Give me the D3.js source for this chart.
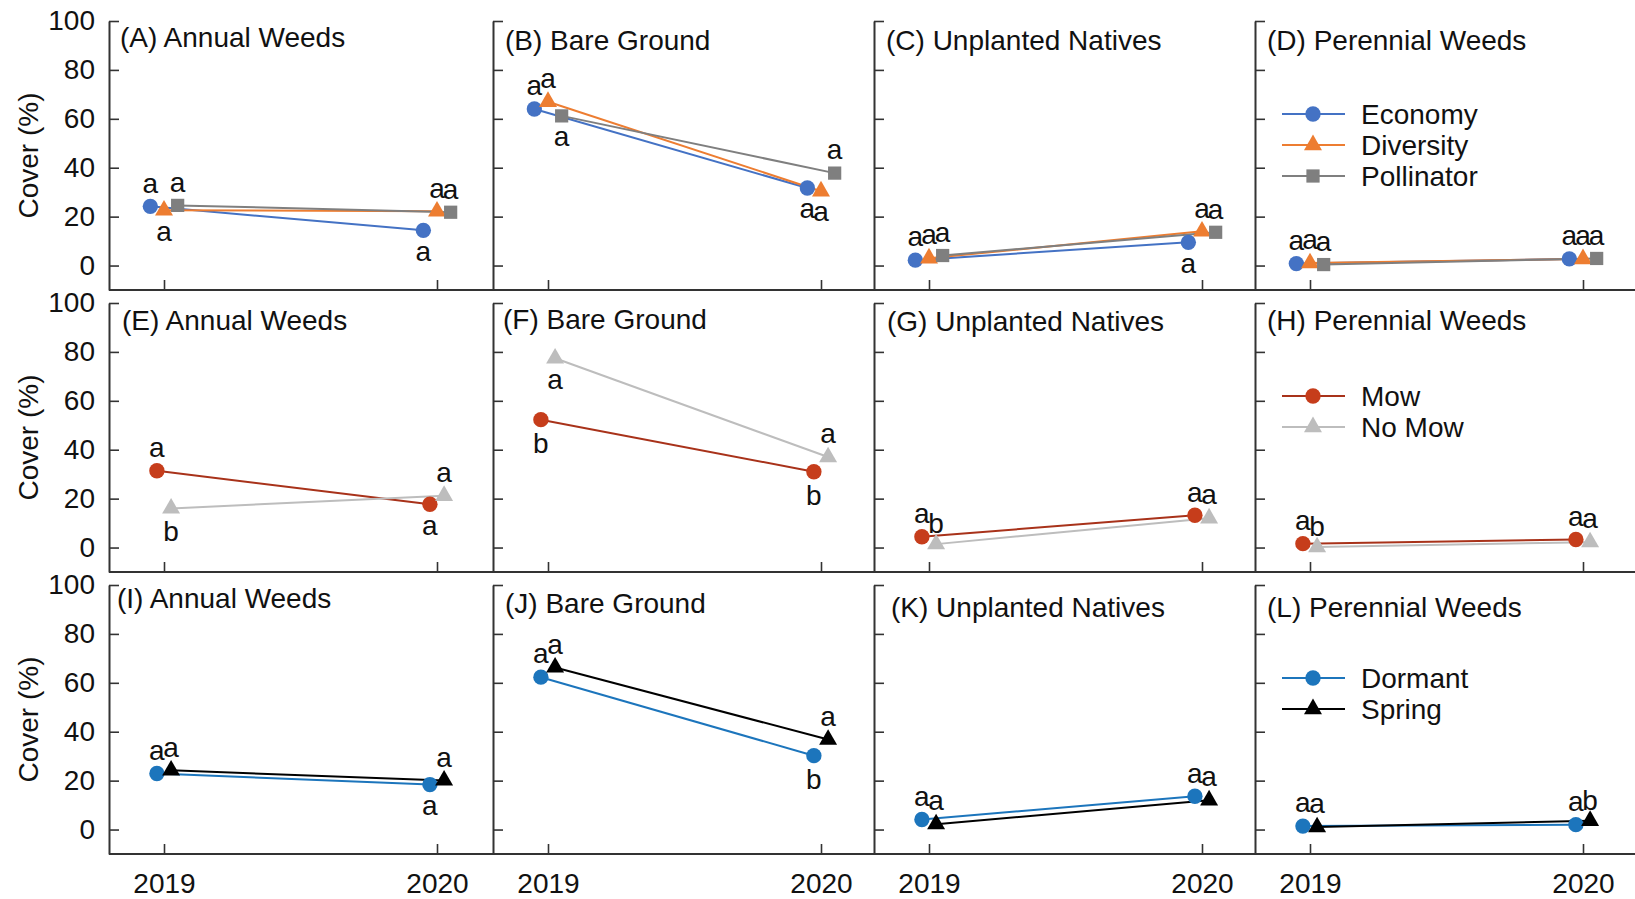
<!DOCTYPE html>
<html>
<head>
<meta charset="utf-8">
<script src="https://cdn.jsdelivr.net/npm/d3@7"></script>
<style>
  body { margin: 0; background: #fff; }
  svg { display: block; font-family: "Liberation Sans", Arial, sans-serif; }
</style>
</head>
<body>
<svg id="chart" width="1635" height="899"></svg>
<script>
// ---- data -------------------------------------------------------------
const years = [2019, 2020];
const yTicks = [0, 20, 40, 60, 80, 100];
const categories = ["Annual Weeds", "Bare Ground", "Unplanted Natives", "Perennial Weeds"];
const panelLetters = [["A", "B", "C", "D"], ["E", "F", "G", "H"], ["I", "J", "K", "L"]];
const yLabel = "Cover (%)";

// Seed mix (row 1): mean cover per category, [2019, 2020]
const economyCover    = [[24.2, 14.4], [64.0, 31.7], [2.2, 9.5],  [0.8, 2.7]];
const diversityCover  = [[22.6, 22.2], [67.0, 30.4], [3.0, 14.0], [1.0, 2.7]];
const pollinatorCover = [[24.6, 21.8], [61.2, 37.8], [4.1, 13.6], [0.4, 2.9]];
const economyLetters    = [["a", "a"], ["a", "a"], ["a", "a"], ["a", "a"]];
const diversityLetters  = [["a", "a"], ["a", "a"], ["a", "a"], ["a", "a"]];
const pollinatorLetters = [["a", "a"], ["a", "a"], ["a", "a"], ["a", "a"]];

// Mowing (row 2)
const mowCover   = [[31.4, 17.7], [52.3, 31.0], [4.4, 13.2], [1.6, 3.3]];
const noMowCover = [[16.0, 21.2], [77.4, 37.0], [1.4, 12.0], [0.2, 2.2]];
const mowLetters   = [["a", "a"], ["b", "b"], ["a", "a"], ["a", "a"]];
const noMowLetters = [["b", "a"], ["a", "a"], ["b", "a"], ["b", "a"]];

// Planting season (row 3)
const dormantCover = [[22.9, 18.4], [62.3, 30.2], [4.1, 13.6], [1.4, 2.0]];
const springCover  = [[24.2, 20.1], [66.3, 36.8], [2.2, 12.0], [1.0, 3.6]];
const dormantLetters = [["a", "a"], ["a", "b"], ["a", "a"], ["a", "a"]];
const springLetters  = [["a", "a"], ["a", "a"], ["a", "a"], ["a", "b"]];

// ---- layout -----------------------------------------------------------
// which side of the marker each letter sits on ("u" above, "d" below), per panel
const economySides    = ["ud", "ud", "ud", "uu"];
const diversitySides  = ["du", "ud", "uu", "uu"];
const pollinatorSides = ["uu", "du", "uu", "uu"];
const mowSides        = ["ud", "dd", "uu", "uu"];
const noMowSides      = ["du", "du", "uu", "uu"];
const dormantSides    = ["ud", "ud", "uu", "uu"];
const springSides     = ["uu", "uu", "uu", "uu"];

const colLeft = [109, 493, 874, 1255];
const colRight = [493, 874, 1255, 1635];
const rowBottom = [290, 572, 854];
const plotH = 269;
const FONT = 28;
const LETTER_FONT = 28;
// panel title offsets from (panel left, y of 100)
const titleOffset = [
  [[11, 26], [12, 29], [12, 29], [12, 29]],
  [[13, 27], [10, 26], [13, 28], [12, 27]],
  [[8, 23], [12, 28], [17, 32], [12, 32]]
];

const styles = {
  economy:    { color: "#4472C4", line: "#4472C4", shape: d3.symbolCircle,   size: 185 },
  diversity:  { color: "#ED7D31", line: "#ED7D31", shape: d3.symbolTriangle, size: 140 },
  pollinator: { color: "#7F7F7F", line: "#7F7F7F", shape: d3.symbolSquare,   size: 175 },
  mow:        { color: "#C63D1B", line: "#A8321A", shape: d3.symbolCircle,   size: 185 },
  noMow:      { color: "#BDBDBD", line: "#BDBDBD", shape: d3.symbolTriangle, size: 140 },
  dormant:    { color: "#1C75BC", line: "#1C75BC", shape: d3.symbolCircle,   size: 185 },
  spring:     { color: "#000000", line: "#000000", shape: d3.symbolTriangle, size: 140 }
};

const groups = [
  [
    { name: "Economy",    cover: economyCover,    letters: economyLetters,    sides: economySides,    style: styles.economy },
    { name: "Diversity",  cover: diversityCover,  letters: diversityLetters,  sides: diversitySides,  style: styles.diversity },
    { name: "Pollinator", cover: pollinatorCover, letters: pollinatorLetters, sides: pollinatorSides, style: styles.pollinator }
  ],
  [
    { name: "Mow",    cover: mowCover,   letters: mowLetters,   sides: mowSides,   style: styles.mow },
    { name: "No Mow", cover: noMowCover, letters: noMowLetters, sides: noMowSides, style: styles.noMow }
  ],
  [
    { name: "Dormant", cover: dormantCover, letters: dormantLetters, sides: dormantSides, style: styles.dormant },
    { name: "Spring",  cover: springCover,  letters: springLetters,  sides: springSides,  style: styles.spring }
  ]
];

// horizontal dodge (in years) so overlapping series stay readable
const dodge = { 3: [-0.05, 0, 0.05], 2: [-0.026, 0.026] };

// ---- drawing ----------------------------------------------------------
const svg = d3.select("#chart");
svg.append("rect").attr("width", 1635).attr("height", 899).attr("fill", "#fff");

const AXIS = "#333";

groups.forEach((series, r) => {
  const bottom = rowBottom[r];
  const y = d3.scaleLinear().domain([-10, 100]).range([bottom, bottom - plotH]);
  const offs = dodge[series.length];

  // y-axis title
  svg.append("text")
    .attr("transform", `translate(28,${bottom - plotH / 2}) rotate(-90)`)
    .attr("text-anchor", "middle")
    .attr("dominant-baseline", "central")
    .attr("font-size", FONT)
    .attr("fill", "#111")
    .text(yLabel);

  categories.forEach((cat, c) => {
    const left = colLeft[c];
    const x = d3.scaleLinear().domain([2019, 2020]).range([left + 55, left + 328]);
    const g = svg.append("g");

    // x baseline, running to the next panel
    g.append("line")
      .attr("x1", left).attr("x2", colRight[c])
      .attr("y1", bottom).attr("y2", bottom)
      .attr("stroke", AXIS).attr("stroke-width", 2);

    // x ticks (labels only on the bottom row)
    const xAxis = d3.axisBottom(x).tickValues(years)
      .tickSizeInner(-10).tickSizeOuter(0).tickPadding(19)
      .tickFormat(r === groups.length - 1 ? d3.format("d") : () => "");
    const gx = g.append("g").attr("transform", `translate(0,${bottom})`).call(xAxis);
    gx.select(".domain").remove();

    // y axis
    const yAxis = d3.axisLeft(y).tickValues(yTicks)
      .tickSizeInner(-10).tickSizeOuter(0).tickPadding(14)
      .tickFormat(c === 0 ? d3.format("d") : () => "");
    const gy = g.append("g").attr("transform", `translate(${left},0)`).call(yAxis);

    [gx, gy].forEach(ax => {
      ax.selectAll("line").attr("stroke", AXIS).attr("stroke-width", 1.6);
      ax.selectAll("path").attr("stroke", AXIS).attr("stroke-width", 2);
      ax.selectAll("text").attr("font-size", FONT).attr("fill", "#111")
        .attr("font-family", "Liberation Sans, Arial, sans-serif");
    });

    // panel title
    const [tdx, tdy] = titleOffset[r][c];
    g.append("text")
      .attr("x", left + tdx).attr("y", y(100) + tdy)
      .attr("font-size", FONT).attr("fill", "#111")
      .text(`(${panelLetters[r][c]}) ${cat}`);

    // series lines
    series.forEach((s, k) => {
      const pts = years.map((yr, i) => [x(yr + offs[k]), y(s.cover[c][i])]);
      g.append("path")
        .attr("d", d3.line()(pts))
        .attr("fill", "none")
        .attr("stroke", s.style.line)
        .attr("stroke-width", 2);
    });

    // markers and letters
    series.forEach((s, k) => {
      years.forEach((yr, i) => {
        const px = x(yr + offs[k]);
        const py = y(s.cover[c][i]);
        g.append("path")
          .attr("d", d3.symbol().type(s.style.shape).size(s.style.size)())
          .attr("transform", `translate(${px},${py})`)
          .attr("fill", s.style.color);

        const letter = s.letters[c][i];
        const h = /[bdfhklt]/.test(letter) ? 0.72 * LETTER_FONT : 0.52 * LETTER_FONT;
        const centre = s.sides[c][i] === "u" ? py - 21 : py + 23;
        g.append("text")
          .attr("x", px).attr("y", centre + h / 2)
          .attr("text-anchor", "middle")
          .attr("font-size", LETTER_FONT).attr("fill", "#111")
          .text(letter);
      });
    });

    // legend in the last column of each row
    if (c === categories.length - 1) {
      series.forEach((s, k) => {
        const ly = y(100) + 93 + k * 31;
        g.append("line")
          .attr("x1", left + 27).attr("x2", left + 90)
          .attr("y1", ly).attr("y2", ly)
          .attr("stroke", s.style.line).attr("stroke-width", 2);
        g.append("path")
          .attr("d", d3.symbol().type(s.style.shape).size(s.style.size)())
          .attr("transform", `translate(${left + 58},${ly})`)
          .attr("fill", s.style.color);
        g.append("text")
          .attr("x", left + 106).attr("y", ly)
          .attr("dominant-baseline", "central")
          .attr("font-size", FONT).attr("fill", "#111")
          .text(s.name);
      });
    }
  });
});
</script>
</body>
</html>
